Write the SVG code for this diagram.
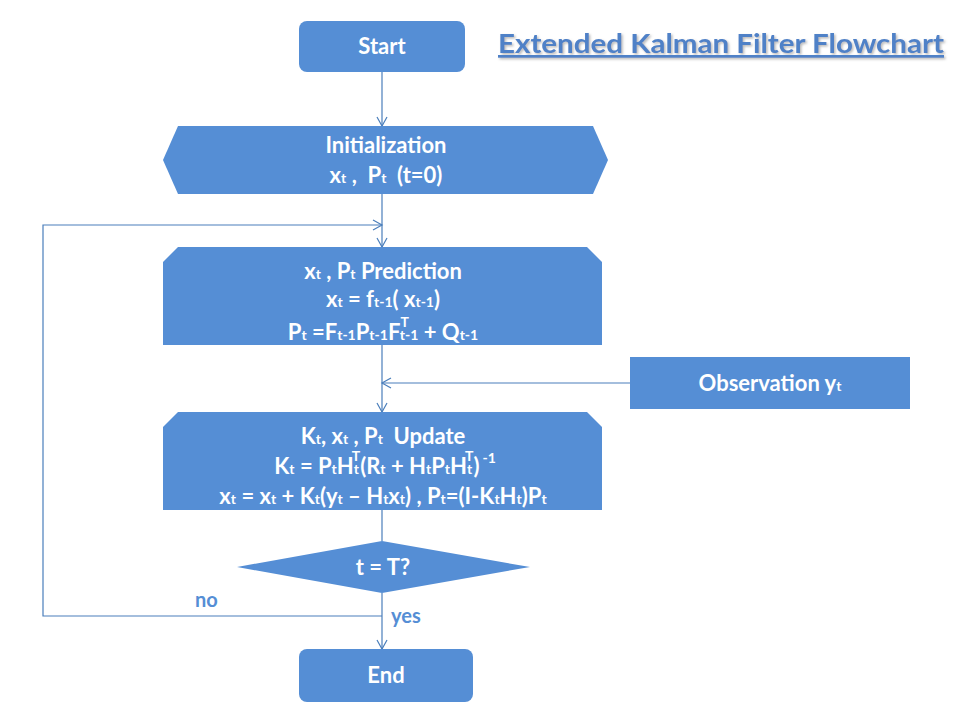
<svg xmlns="http://www.w3.org/2000/svg" width="960" height="720" viewBox="0 0 960 720">
<defs>
<style>
.n{fill:#558ED5;}
.t{font-family:Lato,"Open Sans","Liberation Sans",sans-serif;font-weight:bold;fill:#fff;font-size:22px;text-anchor:middle;}
.s{font-size:14px;}
.c{stroke:#4A7EBB;stroke-width:1.2;fill:none;}
.lbl{font-family:Lato,"Open Sans","Liberation Sans",sans-serif;font-weight:bold;fill:#558ED5;font-size:20px;}
</style>
<marker id="a" markerWidth="12" markerHeight="12" refX="10" refY="6" orient="auto" markerUnits="userSpaceOnUse">
<path d="M1,1 L10,6 L1,11" fill="none" stroke="#4A7EBB" stroke-width="1.2"/>
</marker>
<filter id="sh" x="-5%" y="-20%" width="110%" height="150%">
<feDropShadow dx="1.5" dy="1.5" stdDeviation="1" flood-color="#888" flood-opacity="0.6"/>
</filter>
</defs>
<rect width="960" height="720" fill="#fff"/>
<g id="title">
<text x="721" y="53" text-anchor="middle" font-family="Lato,'Open Sans','Liberation Sans',sans-serif" font-weight="bold" font-size="27" fill="#4F81C7" text-decoration="underline" filter="url(#sh)" textLength="446" lengthAdjust="spacingAndGlyphs">Extended Kalman Filter Flowchart</text>
</g>
<g id="connectors">
<path class="c" d="M382,72 V126" marker-end="url(#a)"/>
<path class="c" d="M382,194 V247" marker-end="url(#a)"/>
<path class="c" d="M382,345 V412" marker-end="url(#a)"/>
<path class="c" d="M630,383 H382" marker-end="url(#a)"/>
<path class="c" d="M382,510 V541"/>
<path class="c" d="M382,593 V649" marker-end="url(#a)"/>
<path class="c" d="M382,616 H43 V225 H382" marker-end="url(#a)"/>
<text class="lbl" x="195" y="607">no</text>
<text class="lbl" x="391" y="623">yes</text>
</g>
<g id="start">
<rect class="n" x="299" y="21" width="166" height="51" rx="8"/>
<text class="t" x="382" y="54">Start</text>
</g>
<g id="init">
<polygon class="n" points="178,126 593,126 608,160 593,194 178,194 163,160"/>
<text class="t" x="386" y="153">Initialization</text>
<text class="t" x="386" y="183">x<tspan class="s">t</tspan> ,&#160; P<tspan class="s">t</tspan>&#160; (t=0)</text>
</g>
<g id="prediction">
<polygon class="n" points="178,247 587,247 602,262 602,345 163,345 163,262"/>
<text class="t" x="383" y="279">x<tspan class="s">t</tspan> , P<tspan class="s">t</tspan> Prediction</text>
<text class="t" x="383" y="307">x<tspan class="s">t</tspan> = f<tspan class="s">t-1</tspan>( x<tspan class="s">t-1</tspan>)</text>
<text class="t" x="383" y="340">P<tspan class="s">t</tspan> =F<tspan class="s">t-1</tspan>P<tspan class="s">t-1</tspan>F<tspan class="s" dy="-13">T</tspan><tspan class="s" dx="-8" dy="13">t-1</tspan> + Q<tspan class="s">t-1</tspan></text>
</g>
<g id="observation">
<rect class="n" x="630" y="357" width="280" height="52"/>
<text class="t" x="770" y="391">Observation y<tspan class="s">t</tspan></text>
</g>
<g id="update">
<polygon class="n" points="178,412 587,412 602,427 602,510 163,510 163,427"/>
<text class="t" x="383" y="444">K<tspan class="s">t</tspan>, x<tspan class="s">t</tspan> , P<tspan class="s">t</tspan>&#160; Update</text>
<text class="t" x="385" y="474">K<tspan class="s">t</tspan> = P<tspan class="s">t</tspan>H<tspan class="s">t</tspan><tspan class="s" dx="-6" dy="-13">T</tspan><tspan dy="13">(R</tspan><tspan class="s">t</tspan> + H<tspan class="s">t</tspan>P<tspan class="s">t</tspan>H<tspan class="s">t</tspan><tspan class="s" dx="-6" dy="-13">T</tspan><tspan dy="13">)</tspan><tspan class="s" dx="3" dy="-11">-1</tspan></text>
<text class="t" x="383" y="504">x<tspan class="s">t</tspan> = x<tspan class="s">t</tspan> + K<tspan class="s">t</tspan>(y<tspan class="s">t</tspan> – H<tspan class="s">t</tspan>x<tspan class="s">t</tspan>) , P<tspan class="s">t</tspan>=(I-K<tspan class="s">t</tspan>H<tspan class="s">t</tspan>)P<tspan class="s">t</tspan></text>
</g>
<g id="decision">
<polygon class="n" points="382,541 530,567 382,593 237,567"/>
<text class="t" x="383" y="575">t = T?</text>
</g>
<g id="end">
<rect class="n" x="299" y="649" width="174" height="53" rx="8"/>
<text class="t" x="386" y="683">End</text>
</g>
</svg>
